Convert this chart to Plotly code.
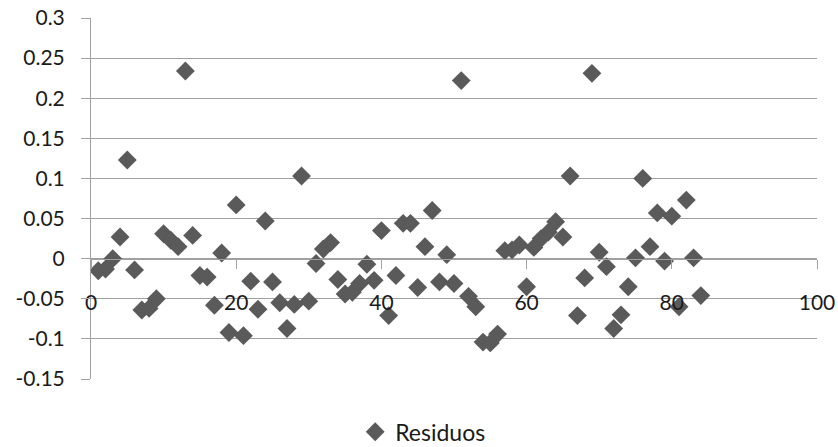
import plotly.graph_objects as go

# Observation index (1..84)
obs = list(range(1, 85))
# Residual values
residuos = [
    -0.015, -0.013, 0.000, 0.027, 0.123, -0.014, -0.064, -0.062, -0.050, 0.031,
    0.023, 0.015, 0.234, 0.029, -0.021, -0.023, -0.058, 0.007, -0.092, 0.067,
    -0.096, -0.028, -0.063, 0.047, -0.029, -0.055, -0.087, -0.057, 0.103, -0.053,
    -0.006, 0.012, 0.020, -0.026, -0.044, -0.042, -0.031, -0.007, -0.027, 0.035,
    -0.071, -0.021, 0.044, 0.044, -0.036, 0.015, 0.060, -0.029, 0.005, -0.031,
    0.222, -0.047, -0.060, -0.104, -0.105, -0.094, 0.010, 0.011, 0.017, -0.035,
    0.014, 0.025, 0.033, 0.046, 0.027, 0.103, -0.071, -0.024, 0.231, 0.008,
    -0.010, -0.087, -0.070, -0.035, 0.001, 0.100, 0.015, 0.057, -0.003, 0.053,
    -0.060, 0.073, 0.001, -0.046,
]
series_name = "Residuos"

y_tickvals = [0.3, 0.25, 0.2, 0.15, 0.1, 0.05, 0, -0.05, -0.1, -0.15]
y_ticktext = ["0.3", "0.25", "0.2", "0.15", "0.1", "0.05", "0", "-0.05", "-0.1", "-0.15"]
x_tickvals = [0, 20, 40, 60, 80, 100]
x_ticktext = ["0", "20", "40", "60", "80", "100"]

y_min, y_max = -0.15, 0.3

FONT = "Lato"
TXT = "#1a1a1a"
GRID = "#a0a0a0"
MARK = "#5a5a5a"

fig = go.Figure()
fig.add_trace(go.Scatter(
    x=obs, y=residuos, mode="markers", name=series_name,
    marker=dict(symbol="diamond", size=14.5, color=MARK, line=dict(width=0)),
    showlegend=True,
))

fig.update_layout(
    width=838, height=447,
    margin=dict(l=91, r=21, t=18, b=68, pad=0, autoexpand=False),
    paper_bgcolor="white", plot_bgcolor="white",
    font=dict(family=FONT, size=21, color=TXT),
    showlegend=True,
    legend=dict(orientation="h", xref="container", yref="container",
                x=0.505, y=0.034, xanchor="center", yanchor="middle",
                font=dict(family=FONT, size=23, color=TXT), bgcolor="rgba(0,0,0,0)",
                itemwidth=30),
)

fig.update_xaxes(
    range=[0, 100], tickvals=x_tickvals, ticktext=x_ticktext,
    anchor="free", position=(0 - y_min) / (y_max - y_min),
    showgrid=False, zeroline=False, automargin=False,
    showline=True, linecolor=GRID, linewidth=1,
    ticks="outside", ticklen=9, tickcolor=GRID, tickwidth=1,
    ticklabelstandoff=16,
    tickfont=dict(family=FONT, size=21, color=TXT),
)
fig.update_yaxes(
    range=[y_min, y_max], tickvals=y_tickvals, ticktext=y_ticktext,
    showgrid=True, gridcolor=GRID, gridwidth=1, zeroline=False, automargin=False,
    showline=True, linecolor=GRID, linewidth=1,
    ticks="outside", ticklen=9, tickcolor=GRID, tickwidth=1,
    ticklabelstandoff=12,
    tickfont=dict(family=FONT, size=21, color=TXT),
)

fig.write_html("out.html")
